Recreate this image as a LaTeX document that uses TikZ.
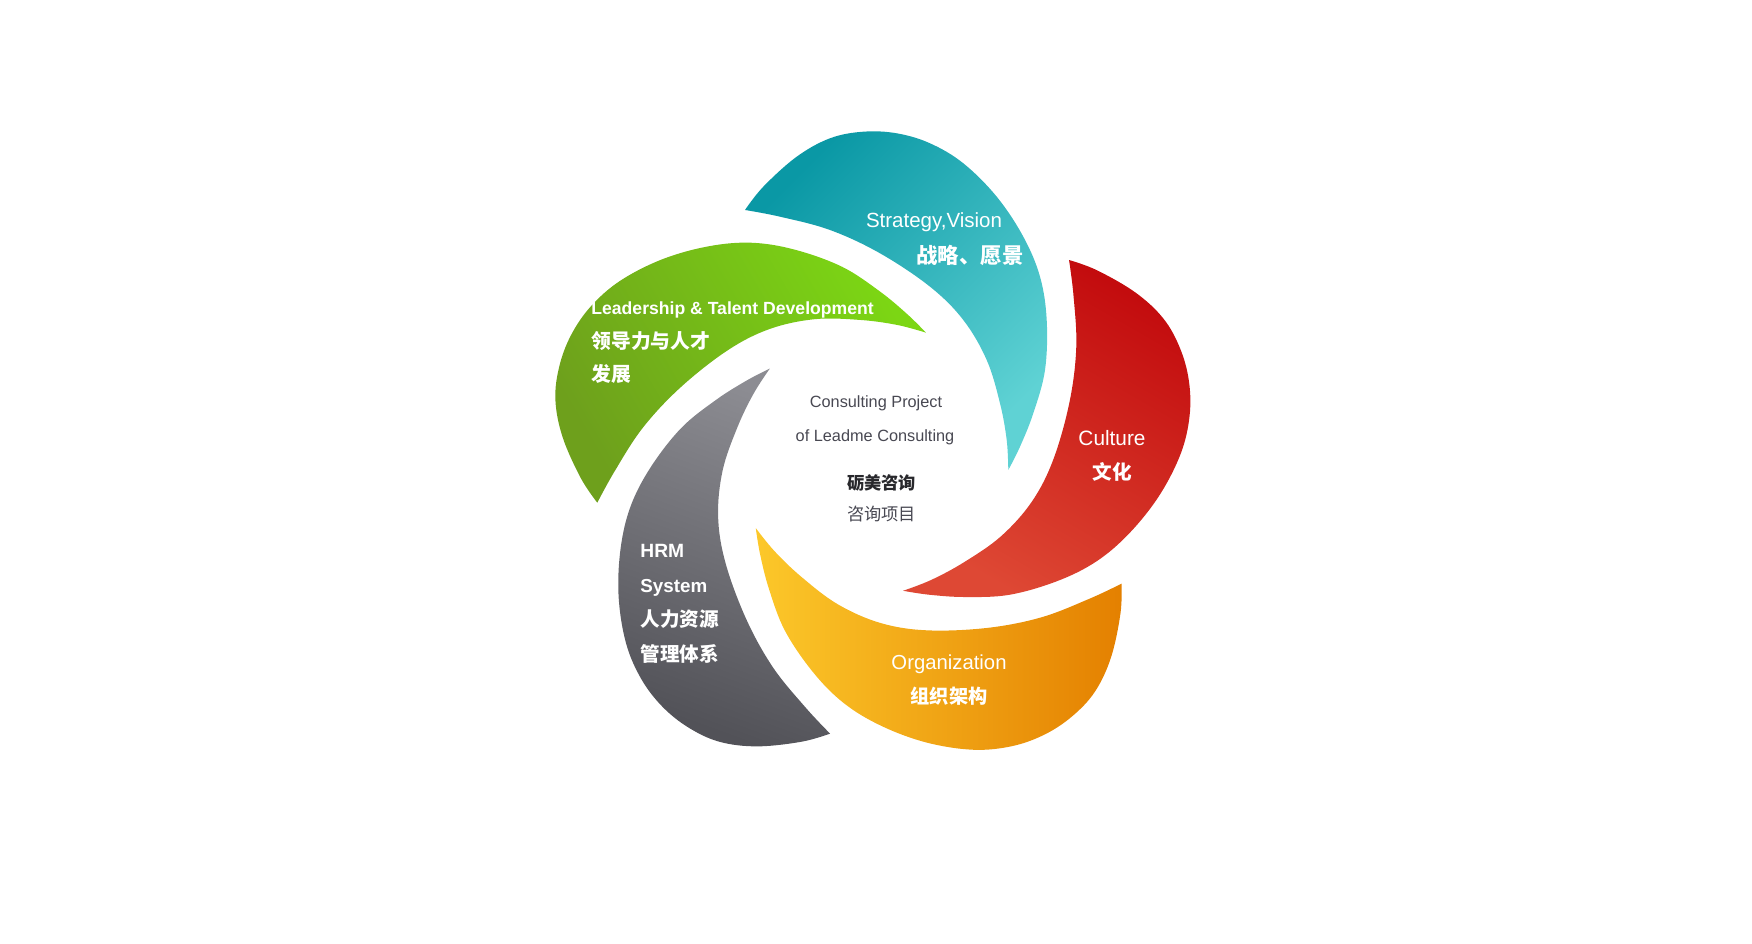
\documentclass[tikz,border=0pt]{standalone}
\usepackage{fontspec}
\setmainfont{Liberation Sans}
\newfontfamily\cjk{Noto Sans CJK SC}
\usetikzlibrary{positioning}

\definecolor{tealA}{RGB}{10,152,165}
\definecolor{tealB}{RGB}{95,210,212}
\definecolor{rougeA}{RGB}{195,12,14}
\definecolor{rougeB}{RGB}{222,72,52}
\definecolor{jauneA}{RGB}{252,200,42}
\definecolor{jauneB}{RGB}{228,128,0}
\definecolor{grisA}{RGB}{140,140,146}
\definecolor{grisB}{RGB}{82,82,88}
\definecolor{vertA}{RGB}{124,214,20}
\definecolor{vertB}{RGB}{110,160,28}
\definecolor{texteA}{RGB}{72,72,82}
\definecolor{texteB}{RGB}{40,40,44}

\begin{document}
\begin{tikzpicture}[x=0.5pt,y=0.5pt,
  blanc/.style={text=white, inner sep=0pt},
  centre/.style={inner sep=0pt}]

\useasboundingbox (0,0) rectangle (1752,943);
\coordinate (C) at (872.6,485);

% Petales
\foreach \ang/\haut/\bas/\sang in {
0/tealA/tealB/45,
-72/rougeA/rougeB/-30,
-144/jauneA/jauneB/90,
-216/grisA/grisB/-20,
-288/vertA/vertB/-60
}
{
    \shade[shift={(C)}, rotate=\ang, top color=\haut, bottom color=\bas, shading angle=\sang]
      plot[smooth, tension=0.6] coordinates {(-127.6,248) (-109.3,271.3) (-75.9,301.3) (-42.6,319.7)
        (-9.3,326.3) (24.1,324.7) (57.4,314.7) (90.7,294.7) (124.1,261.3) (150.7,221.3)
        (167.4,181.3) (174.1,138) (172.4,88) (160.7,44.7) (147.4,11.3) (135.7,-12)}
      -- plot[smooth, tension=0.6] coordinates {(135.7,-12) (134.1,18) (127.4,54.7) (114.1,98)
        (90.7,138) (57.4,171.3) (7.4,204.7) (-42.6,228) (-92.6,241.3) (-127.6,248)}
      -- cycle;
}

% Textes des petales
\node[blanc, anchor=base, font=\fontsize{10.25}{12}\selectfont] (strat) at (934,715) {Strategy,Vision};
\node[blanc, font=\cjk\bfseries\fontsize{10.7}{12}\selectfont] (stratcn) at (970,688) {战略、愿景};

\node[blanc, anchor=base west, font=\bfseries\fontsize{8.8}{10}\selectfont] (lead) at (591,628) {Leadership \& Talent Development};
\node[blanc, anchor=west, font=\cjk\bfseries\fontsize{9.9}{11}\selectfont] (leadcn) at (591,602) {领导力与人才};
\node[blanc, anchor=west, font=\cjk\bfseries\fontsize{9.9}{11}\selectfont] (leadcnb) at (591,569) {发展};

\node[blanc, anchor=base, font=\fontsize{10.4}{12}\selectfont] (cult) at (1112,497.5) {Culture};
\node[blanc, font=\cjk\bfseries\fontsize{9.8}{11}\selectfont] (cultcn) at (1112,471.5) {文化};

\node[blanc, anchor=base, font=\fontsize{10.15}{12}\selectfont] (orga) at (949,273) {Organization};
\node[blanc, font=\cjk\bfseries\fontsize{9.6}{11}\selectfont] (orgacn) at (949,247) {组织架构};

\node[blanc, anchor=base west, font=\bfseries\fontsize{9.6}{11}\selectfont] (hrm) at (640,385) {HRM};
\node[blanc, anchor=base west, font=\bfseries\fontsize{9.4}{11}\selectfont] (sys) at (640,350.5) {System};
\node[blanc, anchor=west, font=\cjk\bfseries\fontsize{9.8}{11}\selectfont] (hrmcn) at (640,324) {人力资源};
\node[blanc, anchor=west, font=\cjk\bfseries\fontsize{9.8}{11}\selectfont] (hrmcnb) at (640,289.4) {管理体系};

% Centre
\node[centre, anchor=base, text=texteA, font=\fontsize{8.15}{10}\selectfont] (proj) at (876,535) {Consulting Project};
\node[centre, anchor=base, text=texteA, font=\fontsize{8.15}{10}\selectfont] (projb) at (875,501) {of Leadme Consulting};
\node[centre, text=texteB, font=\cjk\bfseries\fontsize{8.6}{10}\selectfont] (limei) at (881.5,460) {砺美咨询};
\node[centre, text=texteA, font=\cjk\fontsize{8.6}{10}\selectfont] (limeib) at (881.5,429) {咨询项目};

\end{tikzpicture}
\end{document}
